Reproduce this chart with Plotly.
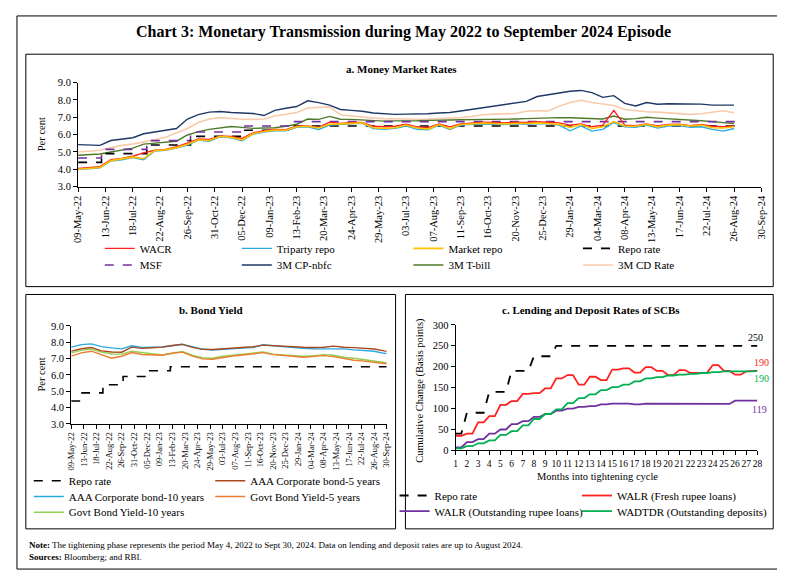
import plotly.graph_objects as go
import pandas as pd

W, H = 785, 571
FONT = "Liberation Serif"

# ---------------- Panel a: Money market rates (biweekly readings) ----------------
mm_dates = pd.date_range("2022-05-09", periods=61, freq="14D")
wacr = [4.05, 4.10, 4.15, 4.55, 4.62, 4.75, 4.95, 5.10, 5.15, 5.30,
        5.50, 5.75, 5.72, 5.92, 5.90, 5.78, 6.10, 6.22, 6.30, 6.28,
        6.48, 6.50, 6.42, 6.72, 6.65, 6.70, 6.70, 6.48, 6.45, 6.48,
        6.60, 6.45, 6.40, 6.62, 6.45, 6.62, 6.68, 6.72, 6.70, 6.68,
        6.72, 6.70, 6.74, 6.72, 6.68, 6.55, 6.62, 6.45, 6.55, 7.40,
        6.55, 6.52, 6.62, 6.50, 6.58, 6.60, 6.52, 6.58, 6.48, 6.45, 6.50]
triparty = [3.98, 4.02, 4.08, 4.48, 4.55, 4.68, 4.55, 5.05, 5.10, 5.22,
            5.40, 5.68, 5.62, 5.88, 5.82, 5.65, 6.02, 6.15, 6.22, 6.22,
            6.42, 6.45, 6.30, 6.55, 6.60, 6.62, 6.65, 6.35, 6.30, 6.36,
            6.50, 6.30, 6.28, 6.55, 6.30, 6.55, 6.60, 6.62, 6.60, 6.58,
            6.62, 6.60, 6.64, 6.62, 6.55, 6.22, 6.50, 6.20, 6.30, 6.70,
            6.45, 6.42, 6.55, 6.38, 6.50, 6.52, 6.42, 6.45, 6.30, 6.20, 6.35]
market_repo = [4.00, 4.05, 4.10, 4.50, 4.58, 4.70, 4.62, 5.08, 5.12, 5.25,
               5.45, 5.70, 5.66, 5.90, 5.85, 5.70, 6.05, 6.18, 6.26, 6.25,
               6.45, 6.48, 6.38, 6.60, 6.62, 6.66, 6.68, 6.40, 6.36, 6.40,
               6.55, 6.38, 6.32, 6.58, 6.35, 6.58, 6.62, 6.66, 6.64, 6.62,
               6.65, 6.64, 6.68, 6.66, 6.60, 6.42, 6.58, 6.35, 6.45, 6.75,
               6.50, 6.48, 6.60, 6.45, 6.55, 6.58, 6.50, 6.55, 6.40, 6.38, 6.45]
cp_nbfc = [5.42, 5.40, 5.38, 5.66, 5.72, 5.82, 6.05, 6.15, 6.22, 6.35,
           6.90, 7.15, 7.30, 7.33, 7.28, 7.26, 7.22, 7.10, 7.40, 7.52,
           7.62, 7.95, 7.85, 7.70, 7.45, 7.40, 7.35, 7.25, 7.20, 7.17,
           7.18, 7.17, 7.20, 7.25, 7.28, 7.36, 7.45, 7.55, 7.64, 7.74,
           7.82, 7.92, 8.20, 8.30, 8.43, 8.50, 8.55, 8.42, 8.15, 8.25,
           7.80, 7.65, 7.85, 7.75, 7.78, 7.78, 7.80, 7.76, 7.70, 7.68, 7.70]
tbill_3m = [4.81, 4.84, 4.88, 5.00, 5.10, 5.22, 5.45, 5.50, 5.55, 5.62,
            5.98, 6.17, 6.30, 6.38, 6.47, 6.42, 6.36, 6.38, 6.40, 6.48,
            6.60, 6.90, 6.88, 7.05, 6.89, 6.88, 6.85, 6.80, 6.78, 6.79,
            6.78, 6.80, 6.82, 6.85, 6.84, 6.86, 6.86, 6.88, 6.86, 6.88,
            6.90, 6.92, 6.95, 6.96, 6.98, 6.97, 6.94, 6.92, 6.90, 7.07,
            6.89, 6.92, 7.00, 6.95, 6.92, 6.89, 6.86, 6.80, 6.75, 6.70, 6.64]
cd_3m = [5.00, 5.05, 5.10, 5.25, 5.38, 5.45, 5.56, 5.70, 5.85, 6.10,
         6.35, 6.70, 6.90, 6.98, 6.92, 6.89, 6.88, 6.90, 7.07, 7.18,
         7.28, 7.54, 7.55, 7.60, 7.15, 7.07, 7.00, 6.95, 6.92, 6.90,
         6.90, 6.89, 6.90, 6.92, 6.95, 6.98, 7.05, 7.15, 7.18, 7.20,
         7.22, 7.35, 7.38, 7.36, 7.64, 7.85, 7.98, 7.85, 7.75, 7.68,
         7.45, 7.38, 7.32, 7.30, 7.27, 7.20, 7.17, 7.20, 7.28, 7.38, 7.26]

repo_dates_a = ["2022-05-09", "2022-06-08", "2022-08-05", "2022-09-30",
                "2022-12-07", "2023-02-08", "2024-08-30"]
repo_dates_b = ["2022-05-09", "2022-06-08", "2022-08-05", "2022-09-30",
                "2022-12-07", "2023-02-08", "2024-09-30"]
repo_vals = [4.40, 4.90, 5.40, 5.90, 6.25, 6.50, 6.50]
msf_vals = [4.65, 5.15, 5.65, 6.15, 6.50, 6.75, 6.75]

# ---------------- Panel b: Bond yields (4-weekly readings) ----------------
bond_dates = list(pd.date_range("2022-05-09", periods=32, freq="28D")) + [pd.Timestamp("2024-09-30")]
aaa_10y = [7.70, 7.85, 7.90, 7.73, 7.65, 7.59, 7.78, 7.68, 7.70, 7.71,
           7.78, 7.86, 7.73, 7.58, 7.52, 7.57, 7.62, 7.64, 7.67, 7.84,
           7.78, 7.72, 7.69, 7.63, 7.60, 7.59, 7.60, 7.59, 7.53, 7.49,
           7.45, 7.32, 7.30]
aaa_5y = [7.45, 7.60, 7.68, 7.47, 7.40, 7.39, 7.70, 7.62, 7.66, 7.70,
          7.80, 7.88, 7.68, 7.56, 7.55, 7.59, 7.64, 7.68, 7.72, 7.82,
          7.78, 7.75, 7.73, 7.69, 7.68, 7.69, 7.76, 7.69, 7.67, 7.63,
          7.58, 7.47, 7.45]
gsec_10y = [7.35, 7.50, 7.58, 7.39, 7.28, 7.27, 7.45, 7.38, 7.30, 7.22,
            7.32, 7.43, 7.20, 7.05, 7.02, 7.14, 7.20, 7.25, 7.33, 7.40,
            7.27, 7.22, 7.20, 7.14, 7.18, 7.24, 7.20, 7.08, 7.02, 6.92,
            6.82, 6.76, 6.75]
gsec_5y = [7.15, 7.35, 7.45, 7.24, 7.02, 7.14, 7.37, 7.25, 7.22, 7.20,
           7.32, 7.39, 7.15, 6.98, 6.96, 7.08, 7.16, 7.22, 7.30, 7.36,
           7.24, 7.17, 7.14, 7.08, 7.12, 7.18, 7.12, 7.00, 6.90, 6.84,
           6.78, 6.70, 6.68]

# ---------------- Panel c: Lending and deposit rates (cumulative bps) ----------------
months = list(range(1, 29))
repo_bps = [40, 90, 90, 140, 140, 190, 190, 225, 225, 250,
            250, 250, 250, 250, 250, 250, 250, 250, 250, 250,
            250, 250, 250, 250, 250, 250, 250, 250]
walr_fresh = [35, 40, 67, 82, 109, 118, 135, 137, 148, 172,
              180, 157, 176, 168, 193, 196, 186, 199, 190, 180,
              192, 185, 186, 204, 190, 181, 189, 190]
walr_out = [7, 20, 27, 40, 50, 63, 70, 80, 87, 95,
            100, 104, 106, 110, 112, 112, 110, 112, 111, 111,
            112, 112, 112, 111, 111, 119, 119, 119]
wadtdr = [5, 10, 17, 24, 37, 46, 60, 75, 87, 98,
          113, 125, 134, 144, 151, 157, 165, 172, 175, 179,
          181, 183, 185, 187, 189, 188, 189, 190]
end_labels = ["250", "190", "190", "119"]


def half_month_steps(vals):
    xs, ys = [], []
    for m, v in zip(months, vals):
        xs.append(m)
        ys.append(v)
        if m != months[-1]:
            xs.append(m + 0.5)
            ys.append(v)
    return xs, ys


def px(x):
    return x / W


def py(y):
    return 1 - y / H


C_RED = "#FF2020"
C_TRI = "#29ABE2"
C_MKT = "#FFC000"
C_MSF = "#7030A0"
C_CP = "#1F3864"
C_TB = "#4E7B2A"
C_CD = "#F8CBAD"

fig = go.Figure()
legend_layout = {}
leg_counter = [0]


def new_legend(x, y, size=11):
    leg_counter[0] += 1
    n = leg_counter[0]
    key = "legend" if n == 1 else f"legend{n}"
    legend_layout[key] = dict(x=px(x), y=py(y), xanchor="left", yanchor="middle",
                              orientation="v", bgcolor="rgba(0,0,0,0)", borderwidth=0,
                              itemwidth=30, font=dict(family=FONT, size=size, color="black"))
    return key


def add(x, y, name, color, axes, legpos, dash=None, width=1.4, shape="linear", size=11):
    key = new_legend(*legpos, size=size)
    fig.add_trace(go.Scatter(x=x, y=y, name=name, mode="lines",
                             line=dict(color=color, width=width, dash=dash, shape=shape),
                             xaxis=axes[0], yaxis=axes[1], legend=key))


A = ("x", "y")
B = ("x2", "y2")
C = ("x3", "y3")
ra, rb = 240, 257  # panel a legend rows
ca = [87, 226, 400, 572]  # panel a legend columns

# ---- panel a traces ----
add(mm_dates, cd_3m, "3M CD Rate", C_CD, A, (ca[3], rb), width=1.6)
add(mm_dates, cp_nbfc, "3M CP-nbfc", C_CP, A, (ca[1], rb))
add(mm_dates, tbill_3m, "3M T-bill", C_TB, A, (ca[2], rb))
add(repo_dates_a, msf_vals, "MSF", C_MSF, A, (ca[0], rb), dash="dash", width=1.6, shape="hv")
add(repo_dates_a, repo_vals, "Repo rate", "black", A, (ca[3], ra), dash="dash", width=1.6, shape="hv")
add(mm_dates, triparty, "Triparty repo", C_TRI, A, (ca[1], ra))
add(mm_dates, wacr, "WACR", C_RED, A, (ca[0], ra))
add(mm_dates, market_repo, "Market repo", C_MKT, A, (ca[2], ra), width=1.6)

# ---- panel b traces ----
add(repo_dates_b, repo_vals, "Repo rate", "black", B, (15, 477), dash="dash", width=1.6, shape="hv")
add(bond_dates, aaa_10y, "AAA Corporate bond-10 years", C_TRI, B, (15, 493))
add(bond_dates, gsec_10y, "Govt Bond Yield-10 years", "#92D050", B, (15, 509))
add(bond_dates, aaa_5y, "AAA Corporate bond-5 years", "#A9481F", B, (199, 477))
add(bond_dates, gsec_5y, "Govt Bond Yield-5 years", "#ED7D31", B, (199, 493))

# ---- panel c traces ----
for vals, name, color, pos, dash in [
    (repo_bps, "Repo rate", "black", (386, 492), "dash"),
    (walr_out, "WALR (Outstanding rupee loans)", C_MSF, (386, 508), None),
    (walr_fresh, "WALR (Fresh rupee loans)", C_RED, (571, 492), None),
    (wadtdr, "WADTDR (Outstanding deposits)", "#00B050", (571, 508), None),
]:
    xs, ys = half_month_steps(vals)
    add(xs, ys, name, color, C, pos, dash=dash, width=1.8)

# ---- axes ----
axis_common = dict(showline=True, linecolor="black", linewidth=1, ticks="outside",
                   ticklen=4, tickcolor="black", showgrid=False, zeroline=False,
                   tickfont=dict(family=FONT, size=10.5, color="black"))

fig.update_layout(
    xaxis=dict(axis_common, domain=[px(65), px(758)], anchor="y", type="date",
               range=["2022-05-09", "2024-09-30"], tick0="2022-05-09",
               dtick=35 * 86400000, tickformat="%d-%b-%y", tickangle=-90,
               tickfont=dict(family=FONT, size=10.5, color="black")),
    yaxis=dict(axis_common, domain=[py(177), py(71)], anchor="x", range=[3, 9],
               dtick=1, tickformat=".1f"),
    xaxis2=dict(axis_common, domain=[px(58), px(378)], anchor="y2", type="date",
                range=["2022-05-09", "2024-09-30"], tick0="2022-05-09",
                dtick=35 * 86400000, tickformat="%d-%b-%y", tickangle=-90,
                tickfont=dict(family=FONT, size=8.5, color="black")),
    yaxis2=dict(axis_common, domain=[py(419), py(319)], anchor="x2", range=[3, 9],
                dtick=1, tickformat=".1f"),
    xaxis3=dict(axis_common, domain=[px(448), px(754)], anchor="y3", range=[1, 28],
                tickvals=months, tickangle=0,
                tickfont=dict(family=FONT, size=9.5, color="black")),
    yaxis3=dict(axis_common, domain=[py(446), py(318)], anchor="x3", range=[0, 300],
                dtick=50),
)
fig.update_layout(**legend_layout)

# ---- boxes ----
shapes = [
    dict(type="rect", xref="paper", yref="paper", x0=px(3), x1=px(779), y0=py(567), y1=py(3),
         line=dict(color="black", width=1)),
    dict(type="rect", xref="paper", yref="paper", x0=px(12), x1=px(770), y0=py(279), y1=py(42),
         line=dict(color="black", width=1)),
    dict(type="rect", xref="paper", yref="paper", x0=px(12), x1=px(387), y0=py(526), y1=py(287),
         line=dict(color="black", width=1)),
    dict(type="rect", xref="paper", yref="paper", x0=px(397), x1=px(770), y0=py(526), y1=py(287),
         line=dict(color="black", width=1)),
]


def ann(text, x, y, size, bold=False, color="black", angle=0, xanchor="center"):
    return dict(text=f"<b>{text}</b>" if bold else text, x=px(x), y=py(y),
                xref="paper", yref="paper", showarrow=False, xanchor=xanchor,
                yanchor="middle", textangle=angle,
                font=dict(family=FONT, size=size, color=color))


annotations = [
    ann("Chart 3: Monetary Transmission during May 2022 to September 2024 Episode", 395, 19, 16, bold=True),
    ann("a. Money Market Rates", 393, 57, 11, bold=True),
    ann("b. Bond Yield", 200, 303, 11, bold=True),
    ann("c. Lending and Deposit Rates of SCBs", 585, 303, 11, bold=True),
    ann("Per cent", 28, 124, 10.5, angle=-90),
    ann("Per cent", 28, 369, 10.5, angle=-90),
    ann("Cumulative Change (Basis points)", 411, 385, 10.5, angle=-90),
    ann("Months into tightening cycle", 592, 473, 10.5),
    ann(end_labels[0], 752, 331, 10),
    ann(end_labels[1], 758, 356, 10, color=C_RED),
    ann(end_labels[2], 758, 373, 10, color="#00B050"),
    ann(end_labels[3], 756, 404, 10, color=C_MSF),
    ann("<b>Note:</b> The tightening phase represents the period May 4, 2022 to Sept 30, 2024. "
        "Data on lending and deposit rates are up to August 2024.", 13, 542, 9, xanchor="left"),
    ann("<b>Sources:</b> Bloomberg; and RBI.", 13, 555, 9, xanchor="left"),
]

fig.update_layout(
    width=W, height=H, margin=dict(l=0, r=0, t=0, b=0),
    paper_bgcolor="white", plot_bgcolor="white",
    shapes=shapes, annotations=annotations,
    font=dict(family=FONT, color="black"),
    showlegend=True,
)

fig.write_html("out.html")
